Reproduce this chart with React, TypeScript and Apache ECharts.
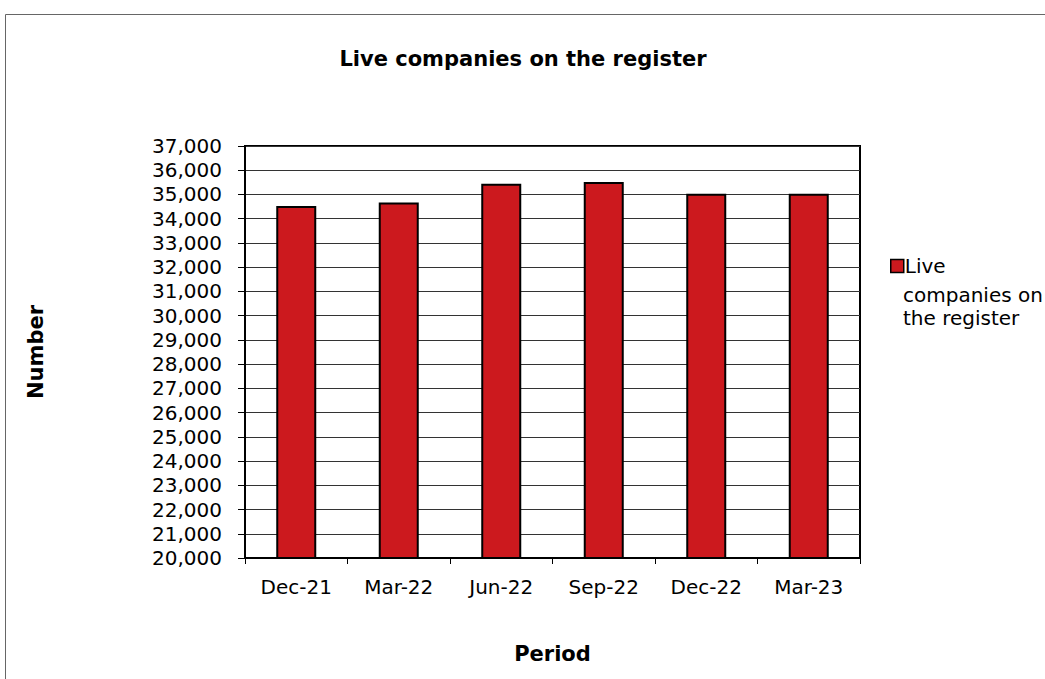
import React, { useEffect, useRef } from "react";
import * as echarts from "echarts";

const categories = ["Dec-21", "Mar-22", "Jun-22", "Sep-22", "Dec-22", "Mar-23"];
const liveCompanies = [34520, 34670, 35440, 35510, 35025, 35025];
const seriesName = "Live companies on the register";
const titleText = "Live companies on the register";
const yAxisName = "Number";
const xAxisName = "Period";

export default function App() {
  const ref = useRef<HTMLDivElement>(null);
  useEffect(() => {
    const chart = echarts.init(ref.current!, null, { renderer: "svg" });
    const font = "DejaVu Sans";
    chart.setOption({
      animation: false,
      backgroundColor: "#ffffff",
      textStyle: { fontFamily: font },
      title: {
        text: titleText,
        left: 518,
        textAlign: "center",
        top: 43,
        textStyle: { fontFamily: font, fontSize: 21, fontWeight: "bold", color: "#000" },
      },
      graphic: [
        {
          type: "rect",
          shape: { x: 5.5, y: 14.5, width: 1100, height: 700 },
          style: { fill: "none", stroke: "#666", lineWidth: 1 },
          silent: true,
          z: -1,
        },
        {
          type: "text",
          x: 903,
          y: 283,
          style: {
            text: "companies on\nthe register",
            fontFamily: font,
            fontSize: 20,
            lineHeight: 23,
            fill: "#000",
          },
        },
      ],
      legend: {
        left: 885,
        top: 251,
        itemWidth: 13,
        itemHeight: 13,
        itemGap: 4,
        icon: "rect",
        formatter: () => "Live",
        textStyle: { fontFamily: font, fontSize: 20, lineHeight: 20, color: "#000", padding: [0, 0, 0, -4] },
        itemStyle: { borderColor: "#000", borderWidth: 1.5 },
      },
      grid: {
        left: 245,
        right: 185,
        top: 146,
        bottom: 121,
        show: true,
        borderColor: "#000",
        borderWidth: 2,
        containLabel: false,
      },
      xAxis: {
        type: "category",
        data: categories,
        name: xAxisName,
        nameLocation: "middle",
        nameGap: 85,
        nameTextStyle: { fontFamily: font, fontSize: 21, fontWeight: "bold", color: "#000" },
        axisLine: { lineStyle: { color: "#000", width: 2 } },
        axisTick: { show: true, length: 6, lineStyle: { color: "#000", width: 1 } },
        axisLabel: { fontFamily: font, fontSize: 20, color: "#000", margin: 19 },
      },
      yAxis: {
        type: "value",
        min: 20000,
        max: 37000,
        interval: 1000,
        name: yAxisName,
        nameLocation: "middle",
        nameGap: 199,
        nameRotate: 90,
        nameTextStyle: { fontFamily: font, fontSize: 21, fontWeight: "bold", color: "#000" },
        axisLine: { show: true, lineStyle: { color: "#000", width: 2 } },
        axisTick: { show: true, length: 7, lineStyle: { color: "#000", width: 1 } },
        axisLabel: {
          fontFamily: font,
          fontSize: 20,
          color: "#000",
          margin: 23,
          formatter: (v: number) => v.toLocaleString("en-US"),
        },
        splitLine: { show: true, lineStyle: { color: "#333", width: 1 } },
      },
      series: [
        {
          name: seriesName,
          type: "bar",
          data: liveCompanies,
          barWidth: 40,
          itemStyle: { color: "#cc191e", borderColor: "#000", borderWidth: 2 },
        },
      ],
    });
    return () => chart.dispose();
  }, []);
  return (
    <div
      ref={ref}
      style={{ position: "absolute", left: 0, top: 0, width: 1045, height: 679 }}
    />
  );
}
